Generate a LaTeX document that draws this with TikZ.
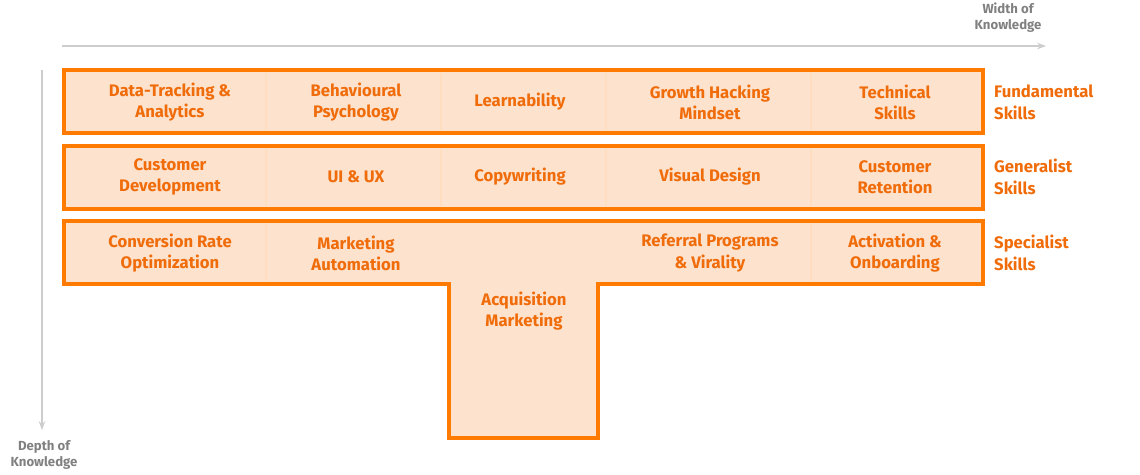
\documentclass[tikz,border=0pt]{standalone}
\usepackage{fontspec}
\setmainfont{Fira Sans}
\usetikzlibrary{arrows.meta, positioning, calc}
\definecolor{skillorange}{RGB}{255,122,0}
\definecolor{skillfill}{RGB}{253,226,205}
\definecolor{skilltext}{RGB}{240,108,10}
\definecolor{axisgray}{RGB}{205,205,205}

\begin{document}
\begin{tikzpicture}[x=0.02cm, y=-0.02cm,
    cell/.style={text=skilltext, font=\fontsize{9.5}{12}\selectfont\bfseries, align=center},
    group/.style={text=skilltext, font=\fontsize{9.5}{12.5}\selectfont\bfseries, align=left, anchor=west},
    band/.style={draw=skillorange, line width=2.2pt, fill=skillfill},
    divider/.style={draw=skillorange!25, line width=0.8pt},
    axis/.style={draw=axisgray, line width=1pt, -{Stealth[length=5pt]}},
    axislabel/.style={text=gray, font=\fontsize{7.5}{9}\selectfont\bfseries, align=center}
]
    \useasboundingbox (0,0) rectangle (1140,474);
    % bands
    \path[band] (64,70) rectangle (983,133);
    \path[band] (64,146) rectangle (983,209);
    \path[band] (64,221) -- (983,221) -- (983,284) -- (598,284) -- (598,438)
        -- (449,438) -- (449,284) -- (64,284) -- cycle;
    % dividers
    \foreach \x in {266,441,606,811} {
        \draw[divider] (\x,73) -- (\x,130);
        \draw[divider] (\x,149) -- (\x,206);
    }
    \foreach \x in {266,811} \draw[divider] (\x,224) -- (\x,281);

    % row 1
    \node[cell] (data) at (170,102) {Data-Tracking \&\\Analytics};
    \node[cell] (behav) at (356,102) {Behavioural\\Psychology};
    \node[cell] (learn) at (520,102) {Learnability};
    \node[cell] (growth) at (710,102) {Growth Hacking\\Mindset};
    \node[cell] (tech) at (895,102) {Technical\\Skills};
    % row 2
    \node[cell] (custdev) at (170,177) {Customer\\Development};
    \node[cell] (uiux) at (356,177) {UI \& UX};
    \node[cell] (copy) at (520,177) {Copywriting};
    \node[cell] (visual) at (710,177) {Visual Design};
    \node[cell] (retain) at (895,177) {Customer\\Retention};
    % row 3
    \node[cell] (conv) at (170,253) {Conversion Rate\\Optimization};
    \node[cell] (auto) at (356,253) {Marketing\\Automation};
    \node[cell] (acq) at (524,311) {Acquisition\\Marketing};
    \node[cell] (refer) at (710,253) {Referral Programs\\\& Virality};
    \node[cell] (activ) at (895,253) {Activation \&\\Onboarding};

    % group labels
    \node[group] (fund) at (988,102) {Fundamental\\Skills};
    \node[group] (gen) at (988,177) {Generalist\\Skills};
    \node[group] (spec) at (988,253) {Specialist\\Skills};

    % axes
    \coordinate (wstart) at (62,46);
    \coordinate (wend) at (1046,46);
    \coordinate (dstart) at (42,70);
    \coordinate (dend) at (42,430);
    \draw[axis] (wstart) -- (wend);
    \draw[axis] (dstart) -- (dend);
    \node[axislabel] (width) at (1008,18) {Width of\\Knowledge};
    \node[axislabel] (depth) at (44,455) {Depth of\\Knowledge};
\end{tikzpicture}
\end{document}
